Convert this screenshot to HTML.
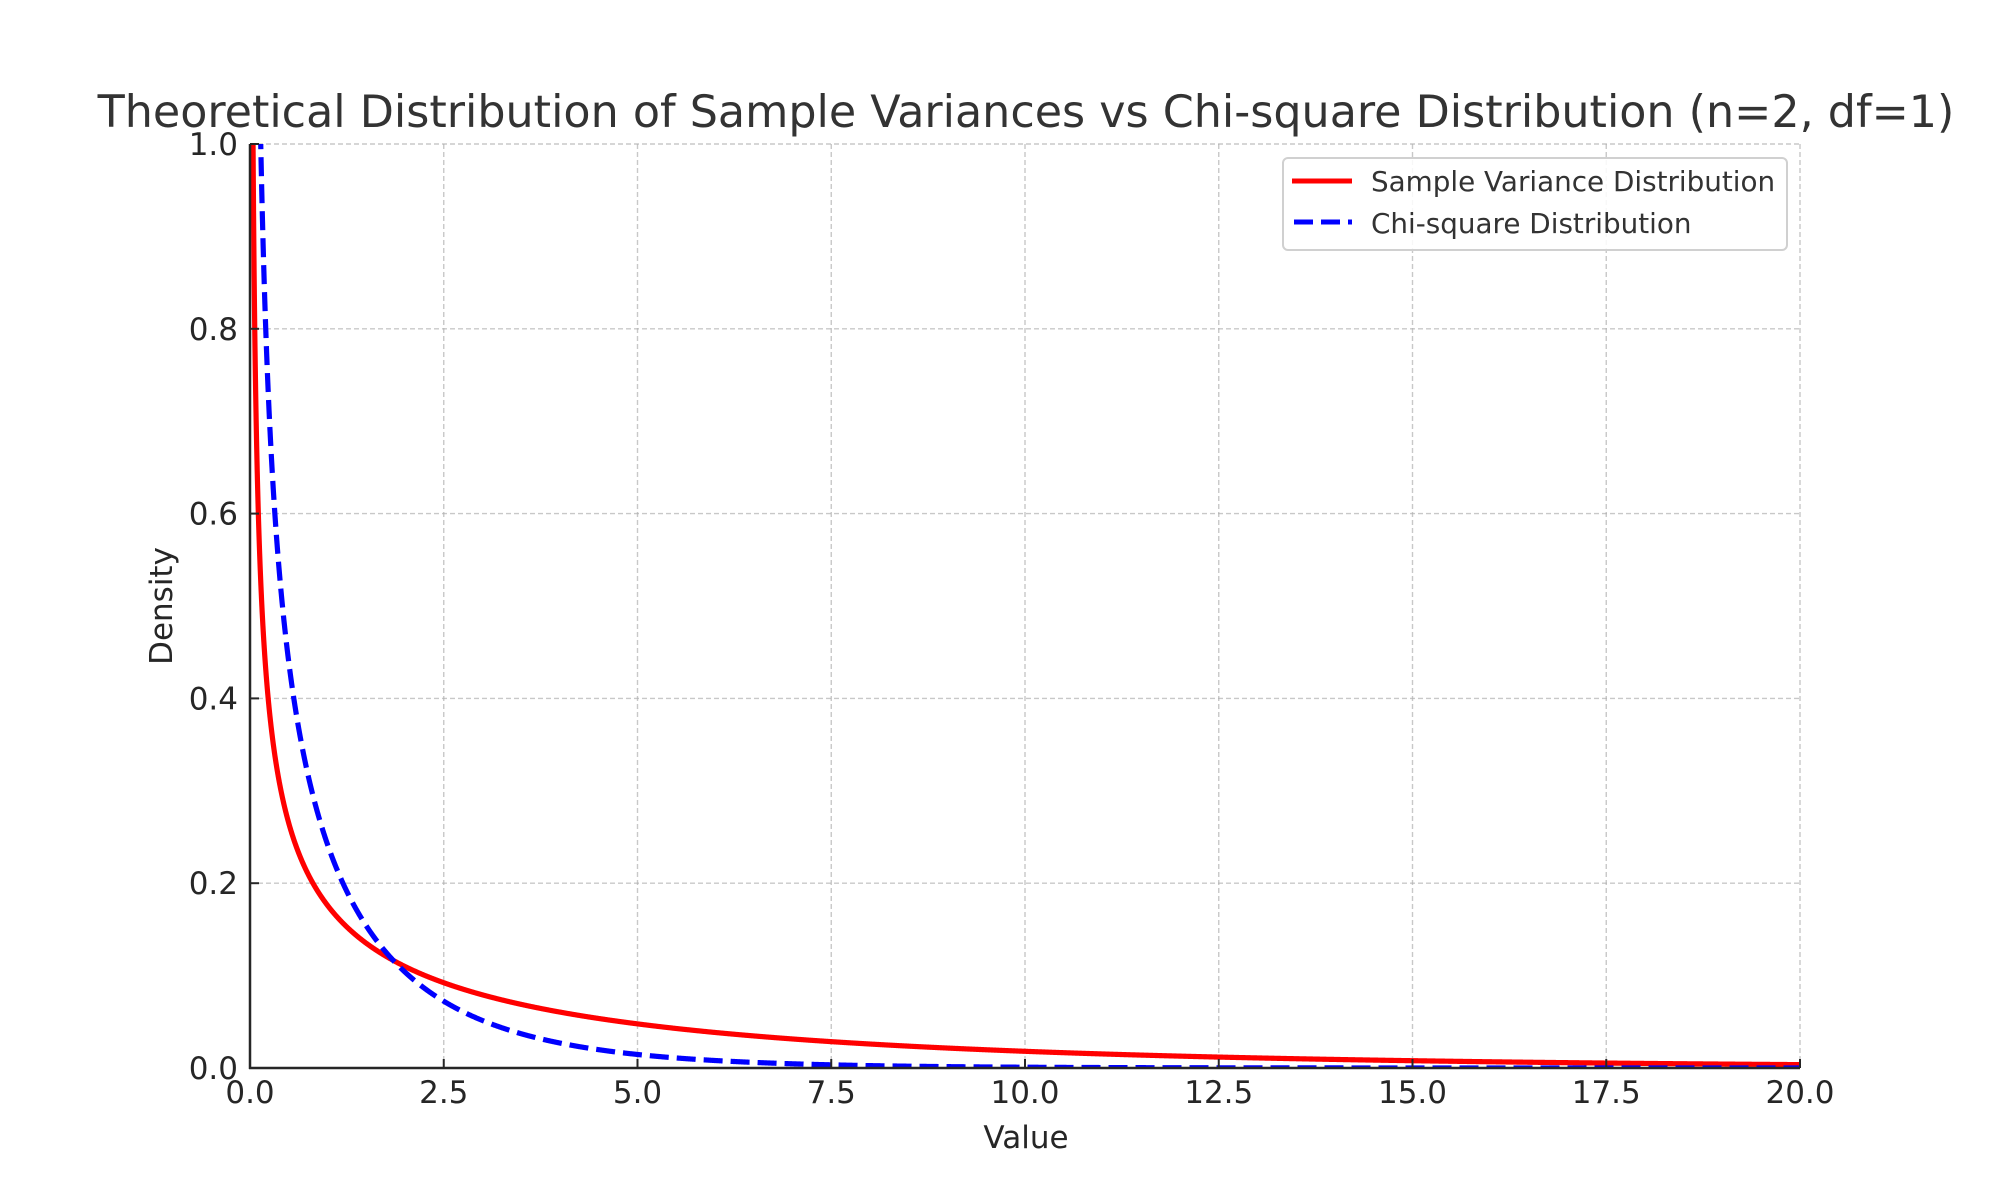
<!DOCTYPE html>
<html><head><meta charset="utf-8"><style>
html,body{margin:0;padding:0;background:#fff;}
svg{display:block;font-family:"DejaVu Sans","Liberation Sans",sans-serif;}
</style></head><body>
<svg id="s" width="2000" height="1200" viewBox="0 0 2000 1200" xmlns="http://www.w3.org/2000/svg">
<rect width="2000" height="1200" fill="#fff"/>
<defs><clipPath id="c"><rect x="250" y="144" width="1550" height="924"/></clipPath></defs>
<g id="grid" stroke="#b0b0b0" stroke-opacity="0.7" stroke-width="1.4" stroke-dasharray="5,3"></g>
<g clip-path="url(#c)">
<path id="red" fill="none" stroke="#ff0000" stroke-width="5.2" stroke-linejoin="round"/>
<path id="blue" fill="none" stroke="#0000ff" stroke-width="5.2" stroke-dasharray="19,8"/>
</g>
<g stroke="#262626" stroke-width="2.5">
<line x1="250" y1="144" x2="250" y2="1069"/>
<line x1="249" y1="1068" x2="1800" y2="1068"/>
</g>
<g id="ticks" stroke="#262626" stroke-width="2"></g>
<g id="labels" fill="#262626" font-size="31"></g>
<text x="1026" y="127" text-anchor="middle" font-size="44.4" fill="#333">Theoretical Distribution of Sample Variances vs Chi-square Distribution (n=2, df=1)</text>
<text x="1026" y="1148" text-anchor="middle" font-size="31" fill="#262626">Value</text>
<text transform="translate(172,606) rotate(-90)" text-anchor="middle" font-size="31" fill="#262626">Density</text>
<rect x="1283" y="158" width="504" height="92" rx="5" fill="#fff" fill-opacity="0.85" stroke="#d0d0d0" stroke-width="2"/>
<line x1="1292" y1="181" x2="1352" y2="181" stroke="#ff0000" stroke-width="5"/>
<line x1="1294" y1="222" x2="1352" y2="222" stroke="#0000ff" stroke-width="5" stroke-dasharray="19,8"/>
<text x="1371" y="191" font-size="27.8" fill="#333">Sample Variance Distribution</text>
<text x="1371" y="233" font-size="27.8" fill="#333">Chi-square Distribution</text>
</svg>
<script>
(function(){
var X0=250,X1=1800,Y0=1068,Y1=144;
function px(x){return X0+(x/20)*(X1-X0);}
function py(y){return Y0-(y/1.0)*(Y0-Y1);}
function chi(x){return Math.exp(-x/2)/Math.sqrt(2*Math.PI*x);}
var ns="http://www.w3.org/2000/svg";
function el(p,t,a,txt){var e=document.createElementNS(ns,t);for(var k in a)e.setAttribute(k,a[k]);if(txt)e.textContent=txt;document.getElementById(p).appendChild(e);}
for(var i=0;i<=8;i++){var x=px(i*2.5);
 if(i>0) el("grid","line",{x1:x,y1:Y1,x2:x,y2:Y0});
 el("ticks","line",{x1:x,y1:Y0,x2:x,y2:Y0-9});
 el("labels","text",{x:x,y:1103,"text-anchor":"middle"},(i*2.5).toFixed(1));}
for(var j=0;j<=5;j++){var y=py(j*0.2);
 if(j>0) el("grid","line",{x1:X0,y1:y,x2:X1,y2:y});
 el("ticks","line",{x1:X0,y1:y,x2:X0+9,y2:y});
 el("labels","text",{x:238,y:y+11,"text-anchor":"end"},(j*0.2).toFixed(1));}
function path(f){var d="",n=4000;for(var k=1;k<=n;k++){var x=0.0005+20*Math.pow(k/n,1.6);var v=f(x);if(v>1.3)v=1.3;d+=(d?"L":"M")+px(x).toFixed(2)+","+py(v).toFixed(2);}return d;}
document.getElementById("red").setAttribute("d",path(function(x){return chi(x/4)/4;}));
document.getElementById("blue").setAttribute("d",path(chi));
})();
</script>
</body></html>
